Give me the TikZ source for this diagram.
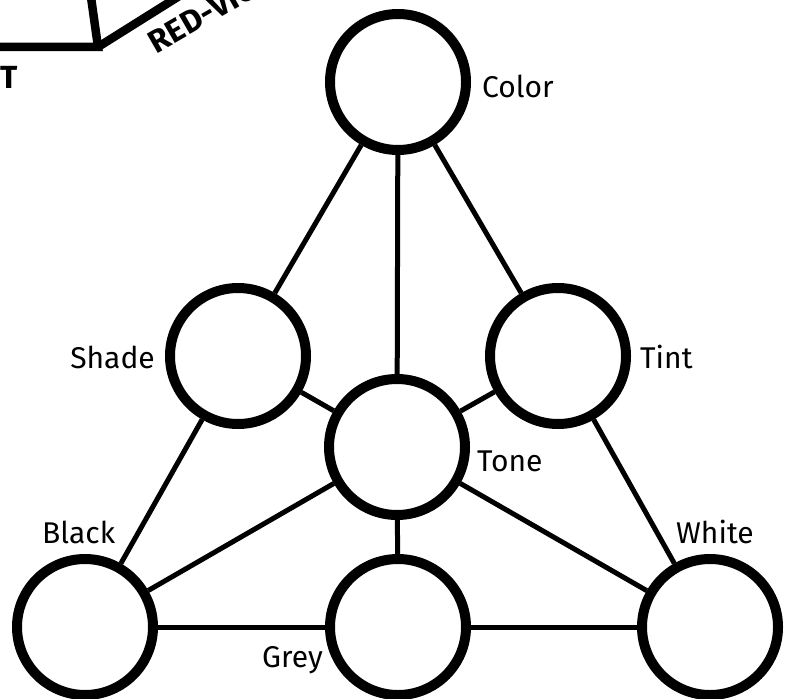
\documentclass[tikz,border=0pt]{standalone}
\usepackage{fontspec}
\setmainfont{Fira Sans}
\begin{document}
\begin{tikzpicture}[x=1pt,y=-1pt,
  ball/.style={circle,draw,line width=10pt,fill=white,minimum size=136pt,inner sep=0pt},
  link/.style={line width=5pt},
  lab/.style={font=\fontsize{30}{32}\selectfont,inner sep=0pt},
  frag/.style={line width=8.5pt},
  fragtext/.style={font=\bfseries\fontsize{32}{34}\selectfont,inner sep=0pt}]
\useasboundingbox (0,0) rectangle (791,698);
% fragment of a neighbouring figure (top left)
\coordinate (fa) at (-10,47);
\coordinate (fb) at (98,47);
\coordinate (fc) at (90,-10);
\coordinate (fd) at (200,-17);
\draw[frag,line join=miter] (fa) -- (fb) -- (fc);
\draw[frag] (fb) -- (fd);
\node[fragtext,rotate=30,anchor=south west] (rv) at (157,55) {RED-VIO};
\node[fragtext,anchor=east] (lt) at (18,77) {T};
% circles
\node[ball] (color) at (398,82) {};
\node[ball] (shade) at (238,356) {};
\node[ball] (tint) at (558,356) {};
\node[ball] (tone) at (397,447) {};
\node[ball] (black) at (85,627) {};
\node[ball] (grey) at (398,627) {};
\node[ball] (white) at (710,627) {};
% connectors
\draw[link] (color) -- (shade);
\draw[link] (color) -- (tone);
\draw[link] (color) -- (tint);
\draw[link] (shade) -- (tone);
\draw[link] (tint) -- (tone);
\draw[link] (shade) -- (black);
\draw[link] (tint) -- (white);
\draw[link] (tone) -- (black);
\draw[link] (tone) -- (grey);
\draw[link] (tone) -- (white);
\draw[link] (black) -- (grey);
\draw[link] (grey) -- (white);
% labels
\node[lab,anchor=west] (lcolor) at (482,86) {Color};
\node[lab,anchor=east] (lshade) at (155,357) {Shade};
\node[lab,anchor=west] (ltint) at (640,357) {Tint};
\node[lab,anchor=west] (ltone) at (477,461) {Tone};
\node[lab,anchor=west] (lblack) at (42,532) {Black};
\node[lab,anchor=west] (lwhite) at (676,532) {White};
\node[lab,anchor=east] (lgrey) at (323,660) {Grey};
\end{tikzpicture}
\end{document}
